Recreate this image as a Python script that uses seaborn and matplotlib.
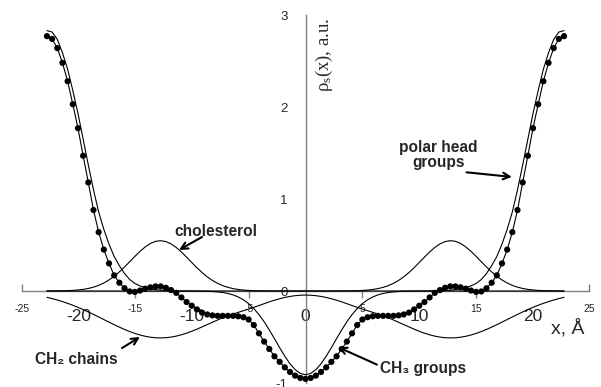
import numpy as np
import pandas as pd
import matplotlib
matplotlib.use("Agg")
import matplotlib.pyplot as plt
import seaborn as sns

# Sample positions across the bilayer, in Å
x = np.linspace(-22.8, 22.8, 101)

# Total scattering density (dots)
total = [2.77, 2.74, 2.64, 2.48, 2.28, 2.03, 1.77, 1.47, 1.18, 0.88,
         0.64, 0.45, 0.30, 0.17, 0.09, 0.03, -0.005, -0.01, 0.005, 0.025,
         0.04, 0.05, 0.05, 0.035, 0.01, -0.02, -0.07, -0.12, -0.16, -0.20,
         -0.235, -0.255, -0.265, -0.27, -0.27, -0.27, -0.27, -0.275, -0.285, -0.31,
         -0.37, -0.46, -0.55, -0.63, -0.71, -0.77, -0.83, -0.88, -0.92, -0.945,
         -0.955,
         -0.945, -0.92, -0.88, -0.83, -0.77, -0.71, -0.63, -0.55, -0.46, -0.37,
         -0.31, -0.285, -0.275, -0.27, -0.27, -0.27, -0.27, -0.265, -0.255, -0.235,
         -0.20, -0.16, -0.12, -0.07, -0.02, 0.01, 0.035, 0.05, 0.05, 0.04,
         0.025, 0.005, -0.01, -0.005, 0.03, 0.09, 0.17, 0.30, 0.45, 0.64,
         0.88, 1.18, 1.47, 1.77, 2.03, 2.28, 2.48, 2.64, 2.74, 2.77]

# Polar head groups
polar = [2.83, 2.815, 2.735, 2.59, 2.41, 2.18, 1.93, 1.65, 1.37, 1.10,
         0.86, 0.67, 0.51, 0.375, 0.275, 0.19, 0.125, 0.082, 0.055, 0.037,
         0.024, 0.015, 0.009, 0.005, 0.003, 0.001, 0.0, 0.0, 0.0, 0.0,
         0.0, 0.0, 0.0, 0.0, 0.0, 0.0, 0.0, 0.0, 0.0, 0.0,
         0.0, 0.0, 0.0, 0.0, 0.0, 0.0, 0.0, 0.0, 0.0, 0.0,
         0.0,
         0.0, 0.0, 0.0, 0.0, 0.0, 0.0, 0.0, 0.0, 0.0, 0.0,
         0.0, 0.0, 0.0, 0.0, 0.0, 0.0, 0.0, 0.0, 0.0, 0.0,
         0.0, 0.0, 0.0, 0.0, 0.001, 0.003, 0.005, 0.009, 0.015, 0.024,
         0.037, 0.055, 0.082, 0.125, 0.19, 0.275, 0.375, 0.51, 0.67, 0.86,
         1.10, 1.37, 1.65, 1.93, 2.18, 2.41, 2.59, 2.735, 2.815, 2.83]

# Cholesterol
cholesterol = [0.0003, 0.0006, 0.0012, 0.0022, 0.0039, 0.0066, 0.011, 0.0177, 0.0275, 0.0417,
               0.0611, 0.0869, 0.1198, 0.160, 0.2076, 0.261, 0.318, 0.376, 0.431, 0.479,
               0.5165, 0.540, 0.547, 0.537, 0.512, 0.473, 0.424, 0.368, 0.310, 0.253,
               0.2006, 0.154, 0.1147, 0.0828, 0.058, 0.0394, 0.0259, 0.0166, 0.0102, 0.0061,
               0.0036, 0.002, 0.0011, 0.0006, 0.0003, 0.0, 0.0, 0.0, 0.0, 0.0,
               0.0,
               0.0, 0.0, 0.0, 0.0, 0.0, 0.0003, 0.0006, 0.0011, 0.002, 0.0036,
               0.0061, 0.0102, 0.0166, 0.0259, 0.0394, 0.058, 0.0828, 0.1147, 0.154, 0.2006,
               0.253, 0.310, 0.368, 0.424, 0.473, 0.512, 0.537, 0.547, 0.540, 0.5165,
               0.479, 0.431, 0.376, 0.318, 0.261, 0.2076, 0.160, 0.1198, 0.0869, 0.0611,
               0.0417, 0.0275, 0.0177, 0.011, 0.0066, 0.0039, 0.0022, 0.0012, 0.0006, 0.0003]

# CH2 chains
ch2 = [-0.069, -0.0825, -0.0978, -0.115, -0.134, -0.155, -0.1775, -0.2018, -0.2276, -0.2545,
       -0.2822, -0.3103, -0.3385, -0.3661, -0.3926, -0.4177, -0.4407, -0.461, -0.4783, -0.4922,
       -0.5022, -0.5082, -0.51, -0.5076, -0.501, -0.4904, -0.476, -0.4583, -0.4376, -0.415,
       -0.39, -0.365, -0.34, -0.315, -0.29, -0.27, -0.25, -0.232, -0.214, -0.197,
       -0.178, -0.158, -0.138, -0.118, -0.100, -0.084, -0.070, -0.059, -0.051, -0.046,
       -0.044,
       -0.046, -0.051, -0.059, -0.070, -0.084, -0.100, -0.118, -0.138, -0.158, -0.178,
       -0.197, -0.214, -0.232, -0.25, -0.27, -0.29, -0.315, -0.34, -0.365, -0.39,
       -0.415, -0.4376, -0.4583, -0.476, -0.4904, -0.501, -0.5076, -0.51, -0.5082, -0.5022,
       -0.4922, -0.4783, -0.461, -0.4407, -0.4177, -0.3926, -0.3661, -0.3385, -0.3103, -0.2822,
       -0.2545, -0.2276, -0.2018, -0.1775, -0.155, -0.134, -0.115, -0.0978, -0.0825, -0.069]

# CH3 groups
ch3 = [0.0, 0.0, 0.0, 0.0, 0.0, 0.0, 0.0, 0.0, 0.0, 0.0,
       0.0, 0.0, 0.0, 0.0, 0.0, 0.0, 0.0, 0.0, 0.0, 0.0,
       0.0, 0.0, 0.0, 0.0, 0.0, 0.0, 0.0, -0.0002, -0.0004, -0.0009,
       -0.0017, -0.0032, -0.0057, -0.0099, -0.0167, -0.027, -0.0424, -0.0648, -0.0958, -0.1372,
       -0.1907, -0.2566, -0.334, -0.423, -0.518, -0.616, -0.709, -0.791, -0.855, -0.896,
       -0.91,
       -0.896, -0.855, -0.791, -0.709, -0.616, -0.518, -0.423, -0.334, -0.2566, -0.1907,
       -0.1372, -0.0958, -0.0648, -0.0424, -0.027, -0.0167, -0.0099, -0.0057, -0.0032, -0.0017,
       -0.0009, -0.0004, -0.0002, 0.0, 0.0, 0.0, 0.0, 0.0, 0.0, 0.0,
       0.0, 0.0, 0.0, 0.0, 0.0, 0.0, 0.0, 0.0, 0.0, 0.0,
       0.0, 0.0, 0.0, 0.0, 0.0, 0.0, 0.0, 0.0, 0.0, 0.0]

major_ticks = [-20, -10, 0, 10, 20]
minor_ticks = [-25, -15, -5, 5, 15, 25]
y_ticks = [-1, 0, 1, 2, 3]

df = pd.DataFrame({"x": x, "total": total, "polar": polar,
                   "cholesterol": cholesterol, "ch2": ch2, "ch3": ch3})

sns.set_style("white")
plt.rcParams["font.family"] = ["Liberation Sans", "DejaVu Sans"]
plt.rcParams["mathtext.fontset"] = "custom"
plt.rcParams["mathtext.rm"] = "Liberation Serif"
plt.rcParams["mathtext.it"] = "Liberation Serif:italic"

fig = plt.figure(figsize=(6.01, 3.87), dpi=100)
ax = fig.add_axes([22 / 601, 4 / 387, 567 / 601, 368 / 387])
ax.set_facecolor("white")

axis_grey = "#808080"

for col in ["polar", "cholesterol", "ch2", "ch3"]:
    sns.lineplot(data=df, x="x", y=col, ax=ax, color="black", lw=0.8,
                 legend=False, zorder=3)
sns.lineplot(data=df, x="x", y="total", ax=ax, color="black", lw=0.8,
             legend=False, zorder=4)
sns.scatterplot(data=df, x="x", y="total", ax=ax, color="black", s=20,
                edgecolor="none", zorder=5, legend=False)

ax.set_xlim(-25, 25)
ax.set_ylim(-1, 3)
ax.set_xlabel("")
ax.set_ylabel("")

# Axes crossing at the origin
for side in ["top", "right"]:
    ax.spines[side].set_visible(False)
ax.spines["left"].set_position(("data", 0))
ax.spines["bottom"].set_position(("data", 0))
for side in ["left", "bottom"]:
    ax.spines[side].set_color(axis_grey)
    ax.spines[side].set_linewidth(1.0)

ax.set_xticks(major_ticks)
ax.set_xticklabels([str(t) for t in major_ticks], fontsize=12.5)
ax.set_xticks(minor_ticks, minor=True)
ax.set_xticklabels([str(t) for t in minor_ticks], minor=True, fontsize=7.5)
ax.tick_params(axis="x", which="major", direction="out", length=11, width=1,
               color=axis_grey, pad=2)
ax.tick_params(axis="x", which="minor", direction="out", length=0, width=1,
               color=axis_grey, pad=9)

ax.set_yticks(y_ticks)
ax.set_yticklabels([str(t) for t in y_ticks], fontsize=9.5)
ax.set_yticks([-0.5, 0.5, 1.5, 2.5], minor=True)
ax.tick_params(axis="y", which="major", direction="out", length=6, width=1,
               color=axis_grey, pad=7)
ax.tick_params(axis="y", which="minor", direction="out", length=5, width=1,
               color=axis_grey)

# short tick marks at the odd multiples of five
up = ax.secondary_xaxis(0.25)
up.set_xticks([-25, 25])
up.tick_params(direction="in", length=5, width=1, color=axis_grey, labelbottom=False)
up.spines["bottom"].set_visible(False)
down = ax.secondary_xaxis(0.25)
down.set_xticks([-15, -5, 5, 15])
down.tick_params(direction="out", length=5, width=1, color=axis_grey, labelbottom=False)
down.spines["bottom"].set_visible(False)

ax.text(1.7, 2.965, r"ρ$_\mathrm{s}$(x), a.u.", rotation=90, ha="center", va="top",
        fontsize=13.5, family="Liberation Serif")
ax.text(23.15, -0.40, "x, Å", ha="center", va="center", fontsize=14,
        family="Liberation Sans")

bold = dict(fontsize=11.2, fontweight="bold", ha="center", va="center")
arrow = dict(arrowstyle="->", color="black", lw=1.5, shrinkA=0, shrinkB=0,
             mutation_scale=12)

ax.text(11.7, 1.48, "polar head\ngroups", linespacing=1.0, **bold)
ax.annotate("", xy=(18.2, 1.24), xytext=(14.2, 1.29), arrowprops=arrow)

ax.text(-7.9, 0.65, "cholesterol", **bold)
ax.annotate("", xy=(-11.15, 0.446), xytext=(-9.13, 0.587), arrowprops=arrow)

ax.text(-20.24, -0.74, "CH₂ chains", **bold)
ax.annotate("", xy=(-14.6, -0.50), xytext=(-16.18, -0.62), arrowprops=arrow)

ax.text(10.36, -0.837, "CH₃ groups", **bold)
ax.annotate("", xy=(2.87, -0.61), xytext=(6.3, -0.80), arrowprops=arrow)

fig.savefig("out.png", dpi=100)
